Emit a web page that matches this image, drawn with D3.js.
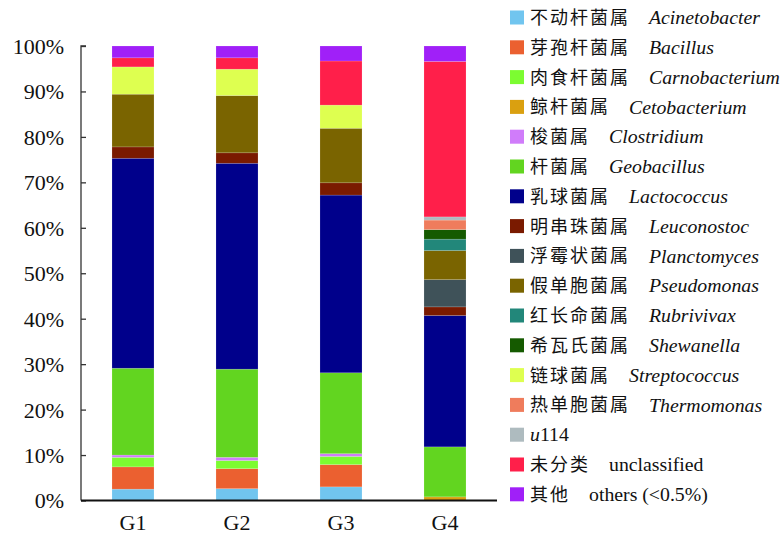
<!DOCTYPE html>
<html>
<head>
<meta charset="utf-8">
<script src="https://cdn.jsdelivr.net/npm/d3@7"></script>
<style>
  body { margin: 0; background: #fff; }
  svg { display: block; }
</style>
</head>
<body>
<div id="chart"></div>
<script>
// groups on the x axis
const groups = ['G1', 'G2', 'G3', 'G4'];

// genera, bottom to top in each bar
const genusCn = ['不动杆菌属', '芽孢杆菌属', '肉食杆菌属', '鲸杆菌属', '梭菌属', '杆菌属', '乳球菌属',
  '明串珠菌属', '浮霉状菌属', '假单胞菌属', '红长命菌属', '希瓦氏菌属', '链球菌属', '热单胞菌属',
  '', '未分类', '其他'];
const genusLatin = ['Acinetobacter', 'Bacillus', 'Carnobacterium', 'Cetobacterium', 'Clostridium',
  'Geobacillus', 'Lactococcus', 'Leuconostoc', 'Planctomyces', 'Pseudomonas', 'Rubrivivax',
  'Shewanella', 'Streptococcus', 'Thermomonas', 'u114', 'unclassified', 'others (<0.5%)'];
const genusColors = ['#71c5ef', '#eb6030', '#7cfc31', '#daa010', '#d07cfa', '#62d520', '#00008b',
  '#7a1a00', '#3f5259', '#7a6400', '#22877a', '#155a00', '#deff50', '#ef7c5c', '#aebbbf',
  '#ff1f4a', '#a020f8'];

// relative abundance (%) per genus, in group order G1..G4
const acinetobacter  = [2.5, 2.6, 3.0, 0];
const bacillus       = [4.9, 4.4, 4.9, 0];
const carnobacterium = [2.1, 1.8, 1.8, 0];
const cetobacterium  = [0, 0, 0, 0.8];
const clostridium    = [0.5, 0.7, 0.6, 0];
const geobacillus    = [19.1, 19.4, 17.8, 11.0];
const lactococcus    = [46.2, 45.3, 39.1, 28.9];
const leuconostoc    = [2.5, 2.3, 2.7, 1.9];
const planctomyces   = [0, 0, 0, 6.0];
const pseudomonas    = [11.6, 12.6, 12.0, 6.4];
const rubrivivax     = [0, 0, 0, 2.5];
const shewanella     = [0, 0, 0, 2.1];
const streptococcus  = [6.0, 5.8, 5.1, 0];
const thermomonas    = [0, 0, 0, 2.1];
const u114           = [0, 0, 0, 0.7];
const unclassified   = [2.0, 2.5, 9.7, 34.2];
const others         = [2.6, 2.6, 3.3, 3.4];

const yTicks = [0, 10, 20, 30, 40, 50, 60, 70, 80, 90, 100];

const series = [acinetobacter, bacillus, carnobacterium, cetobacterium, clostridium, geobacillus,
  lactococcus, leuconostoc, planctomyces, pseudomonas, rubrivivax, shewanella, streptococcus,
  thermomonas, u114, unclassified, others];

// table for d3.stack
const table = groups.map((g, i) => {
  const row = { group: g };
  genusLatin.forEach((k, j) => { row[k] = series[j][i]; });
  return row;
});

const width = 780, height = 538;
const margin = { left: 81, right: 283, top: 46, bottom: 37.5 };

const svg = d3.select('#chart')
  .append('svg')
  .attr('width', width)
  .attr('height', height);

const x = d3.scaleBand()
  .domain(groups)
  .range([margin.left, width - margin.right])
  .paddingInner(0.596)
  .paddingOuter(0.298);

const y = d3.scaleLinear()
  .domain([0, 100])
  .range([height - margin.bottom, margin.top]);

const colour = d3.scaleOrdinal().domain(genusLatin).range(genusColors);

const stacked = d3.stack().keys(genusLatin)(table);

// bars
svg.append('g')
  .selectAll('g')
  .data(stacked)
  .join('g')
    .attr('fill', d => colour(d.key))
  .selectAll('rect')
  .data(d => d.filter(s => s[1] - s[0] > 0))
  .join('rect')
    .attr('x', d => x(d.data.group))
    .attr('width', x.bandwidth())
    .attr('y', d => y(d[1]))
    .attr('height', d => y(d[0]) - y(d[1]))
    .attr('stroke', 'rgba(255,255,255,0.25)')
    .attr('stroke-width', 0.6);

// y axis, ticks pointing inward
const yAxis = svg.append('g')
  .attr('transform', `translate(${margin.left},0)`)
  .call(d3.axisRight(y).tickValues(yTicks).tickSize(5).tickFormat(d => d + '%'));
yAxis.select('.domain').attr('stroke', '#333').attr('stroke-width', 1.3).attr('d', `M5,${y(100)}H0V${y(0)}`);
yAxis.selectAll('.tick line').attr('stroke', '#333').attr('stroke-width', 1.3);
yAxis.selectAll('.tick text')
  .attr('x', -17)
  .attr('text-anchor', 'end')
  .attr('dy', '0.34em')
  .attr('fill', '#111')
  .style('font-family', '"Liberation Serif", "Times New Roman", serif')
  .style('font-size', '22px');

// x axis
const xAxis = svg.append('g')
  .attr('transform', `translate(0,${y(0)})`)
  .call(d3.axisBottom(x).tickSize(0).tickPadding(14));
xAxis.select('.domain').attr('stroke', '#111').attr('stroke-width', 1.8).attr('d', `M${margin.left},0H${width - margin.right}`);
xAxis.selectAll('.tick text')
  .attr('dy', '0.71em')
  .attr('fill', '#111')
  .style('font-family', '"Liberation Serif", "Times New Roman", serif')
  .style('font-size', '22px');

// legend
const legend = svg.append('g')
  .selectAll('g')
  .data(genusLatin)
  .join('g')
    .attr('transform', (_, i) => `translate(510,${17.5 + i * 29.8})`);

legend.append('rect')
  .attr('x', 0)
  .attr('y', -7)
  .attr('width', 14)
  .attr('height', 14)
  .attr('fill', d => colour(d));

legend.append('text')
  .attr('x', 20)
  .attr('dy', '0.36em')
  .attr('fill', '#111')
  .style('font-family', '"Noto Sans CJK SC", sans-serif')
  .style('font-size', '18px')
  .style('letter-spacing', '2px')
  .text((_, i) => genusCn[i]);

legend.append('text')
  .attr('x', (_, i) => genusCn[i].length ? 20 + genusCn[i].length * 20 + 19 : 20)
  .attr('dy', '0.34em')
  .attr('fill', '#111')
  .style('font-family', '"Liberation Serif", "Times New Roman", serif')
  .style('font-size', '19.8px')
  .style('font-style', (_, i) => i >= 15 ? 'normal' : 'italic')
  .each(function (d, i) {
    const t = d3.select(this);
    if (d === 'u114') {
      t.style('font-style', 'normal');
      t.append('tspan').style('font-style', 'italic').text('u');
      t.append('tspan').text('114');
    } else {
      t.text(d);
    }
  });
</script>
</body>
</html>
